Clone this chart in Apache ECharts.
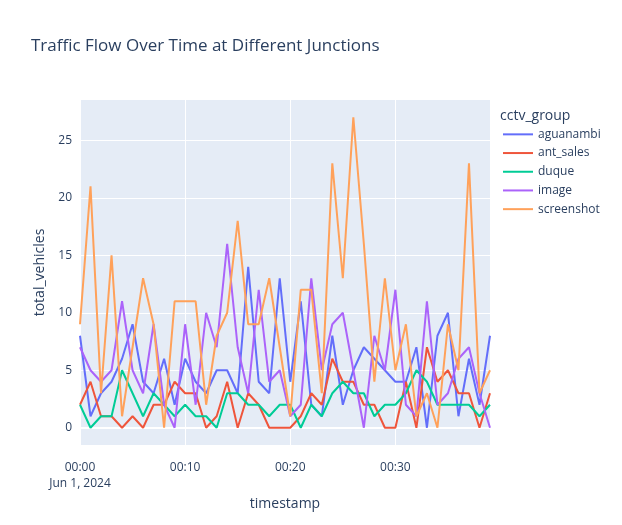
<!DOCTYPE html>
<html>
<head>
<meta charset="utf-8">
<script src="https://cdn.jsdelivr.net/npm/echarts@6/dist/echarts.min.js"></script>
<style>
  html, body { margin: 0; padding: 0; background: #fff; }
  #chart { width: 622px; height: 525px; }
</style>
</head>
<body>
<div id="chart"></div>
<script>
// minutes after midnight, Jun 1 2024
const timestamps = [
  "00:00", "00:01", "00:02", "00:03", "00:04", "00:05", "00:06", "00:07", "00:08", "00:09",
  "00:10", "00:11", "00:12", "00:13", "00:14", "00:15", "00:16", "00:17", "00:18", "00:19",
  "00:20", "00:21", "00:22", "00:23", "00:24", "00:25", "00:26", "00:27", "00:28", "00:29",
  "00:30", "00:31", "00:32", "00:33", "00:34", "00:35", "00:36", "00:37", "00:38", "00:39",
];

const groups = ["aguanambi", "ant_sales", "duque", "image", "screenshot"];
const colors = ["#636efa", "#EF553B", "#00cc96", "#ab63fa", "#FFA15A"];

const aguanambi = [8, 1, 3, 4, 6, 9, 4, 3, 6, 2, 6, 4, 3, 5, 5, 3, 14, 4, 3, 13,
  4, 11, 2, 1, 8, 2, 5, 7, 6, 5, 4, 4, 7, 0, 8, 10, 1, 6, 2, 8];
const antSales = [2, 4, 1, 1, 0, 1, 0, 2, 2, 4, 3, 3, 0, 1, 4, 0, 3, 2, 0, 0,
  0, 1, 3, 2, 6, 4, 4, 2, 2, 0, 0, 4, 0, 7, 4, 5, 3, 3, 0, 3];
const duque = [2, 0, 1, 1, 5, 3, 1, 3, 2, 1, 2, 1, 1, 0, 3, 3, 2, 2, 1, 2,
  2, 0, 2, 1, 3, 4, 3, 3, 1, 2, 2, 3, 5, 4, 2, 2, 2, 2, 1, 2];
const image = [7, 5, 4, 5, 11, 5, 3, 9, 2, 0, 9, 2, 10, 7, 16, 7, 3, 12, 4, 5,
  1, 2, 13, 5, 9, 10, 5, 0, 8, 5, 12, 2, 1, 11, 2, 3, 6, 7, 3, 0];
const screenshot = [9, 21, 3, 15, 1, 7, 13, 9, 0, 11, 11, 11, 2, 8, 10, 18, 9, 9, 13, 7,
  1, 12, 12, 3, 23, 13, 27, 16, 4, 13, 5, 9, 1, 3, 0, 9, 5, 23, 3, 5];

const seriesValues = [aguanambi, antSales, duque, image, screenshot];

const yTicks = [0, 5, 10, 15, 20, 25];

const textColor = "#2a3f5f";
const font = "Open Sans";

// only every 10th split line (the multiples of 5 from -1.5) is visible
const gridColors = [];
for (let k = 0; k < 10; k++) gridColors.push(k === 3 ? "#ffffff" : "rgba(0,0,0,0)");

const chart = echarts.init(document.getElementById("chart"));

const series = groups.map((g, i) => ({
  name: g,
  type: "line",
  data: seriesValues[i],
  showSymbol: false,
  symbol: "none",
  lineStyle: { width: 2, color: colors[i] },
  itemStyle: { color: colors[i] },
  z: 3,
}));

// zero line, thicker like plotly's zeroline, below the traces
series.unshift({
  name: "zeroline",
  type: "line",
  data: [],
  silent: true,
  markLine: {
    z: 1,
    silent: true,
    symbol: "none",
    label: { show: false },
    lineStyle: { color: "#ffffff", width: 2, type: "solid" },
    data: [{ yAxis: 0 }],
  },
});

const option = {
  animation: false,
  backgroundColor: "#ffffff",
  textStyle: { fontFamily: font },
  title: [
    {
      text: "Traffic Flow Over Time at Different Junctions",
      left: 26,
      top: 33,
      textStyle: { fontFamily: font, fontSize: 17, fontWeight: "normal", color: textColor },
    },
    {
      text: "cctv_group",
      left: 495,
      top: 104,
      textStyle: { fontFamily: font, fontSize: 14, fontWeight: "normal", color: textColor },
    },
  ],
  legend: {
    data: groups,
    orient: "vertical",
    left: 498,
    top: 120,
    itemWidth: 30,
    itemHeight: 2,
    itemGap: 0,
    icon: "rect",
    textStyle: { fontFamily: font, fontSize: 12, color: textColor, lineHeight: 18.7 },
  },
  grid: {
    left: 80,
    top: 100,
    width: 410,
    height: 345,
    show: true,
    backgroundColor: "#E5ECF6",
    borderWidth: 0,
  },
  xAxis: {
    type: "category",
    data: timestamps,
    boundaryGap: false,
    name: "timestamp",
    nameLocation: "middle",
    nameGap: 35,
    nameTextStyle: { fontFamily: font, fontSize: 14, color: textColor },
    axisLine: { show: false },
    axisTick: { show: false },
    axisLabel: {
      interval: 9,
      margin: 15,
      fontFamily: font,
      fontSize: 12,
      lineHeight: 16,
      color: textColor,
      formatter: (v, idx) => (idx === 0 ? v + "\nJun 1, 2024" : v),
    },
    splitLine: { show: true, interval: 9, lineStyle: { color: "#ffffff", width: 1 } },
  },
  yAxis: {
    type: "value",
    min: -1.5,
    max: 28.5,
    interval: 0.5,
    name: "total_vehicles",
    nameLocation: "middle",
    nameGap: 33,
    nameTextStyle: { fontFamily: font, fontSize: 14, color: textColor },
    axisLine: { show: false },
    axisTick: { show: false },
    axisLabel: {
      margin: 8,
      fontFamily: font,
      fontSize: 12,
      color: textColor,
      formatter: (v) => {
        const r = Math.round(v * 10) / 10;
        return yTicks.indexOf(r) >= 0 ? String(r) : "";
      },
    },
    splitLine: { show: true, showMinLine: true, lineStyle: { color: gridColors, width: 1 } },
  },
  series: series,
};

chart.setOption(option);
</script>
</body>
</html>
